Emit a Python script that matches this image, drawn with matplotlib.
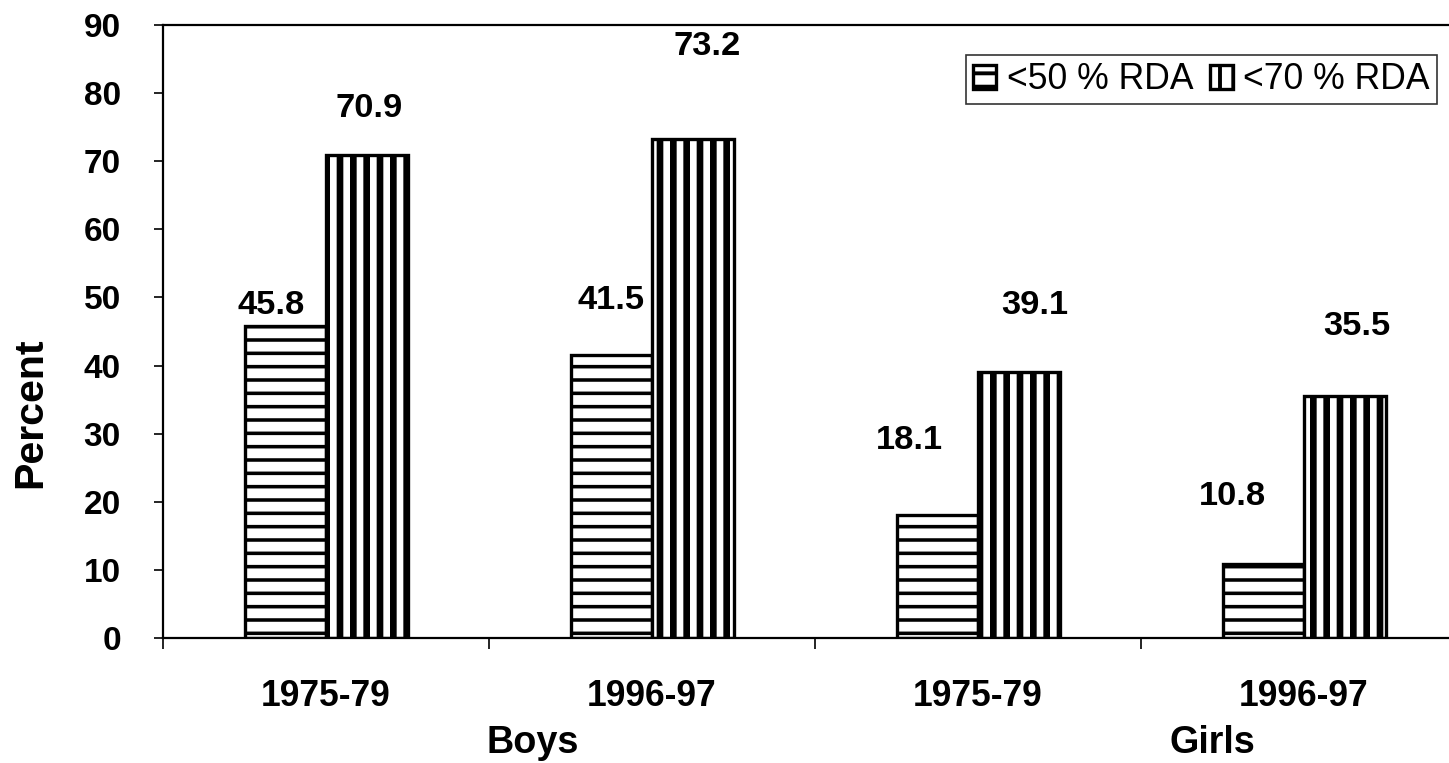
import numpy as np
import matplotlib
matplotlib.use("Agg")
import matplotlib.pyplot as plt

plt.rcParams["font.family"] = ["Liberation Sans", "DejaVu Sans"]
plt.rcParams["hatch.linewidth"] = 3.5

# data
periods = ["1975-79", "1996-97", "1975-79", "1996-97"]
groups = ["Boys", "Girls"]
below50 = [45.8, 41.5, 18.1, 10.8]
below70 = [70.9, 73.2, 39.1, 35.5]
series_names = ["<50 % RDA", "<70 % RDA"]

# layout: where the value labels sit relative to each bar top (pixels, dx, dy)
lab50_off = [(-14, 21), (0, 55), (-28, 74), (-31, 68)]
lab70_off = [(2, 47), (14, 93), (16, 66), (12, 70)]
group_x = [1.135, 3.22]

DPI = 80
fig = plt.figure(figsize=(1449 / DPI, 763 / DPI), dpi=DPI)
ax = fig.add_axes([163 / 1449, 125 / 763, 1304 / 1449, 613 / 763])

x = np.arange(len(periods)) + 0.5
w = 0.25
b1 = ax.bar(x - w / 2, below50, w, facecolor="white", edgecolor="black",
            hatch="-", linewidth=3, label=series_names[0])
b2 = ax.bar(x + w / 2, below70, w, facecolor="white", edgecolor="black",
            hatch="|", linewidth=3, label=series_names[1])
for bars, hw in [(b1, 3.2), (b2, 6.0)]:
    for r in bars:
        if hasattr(r, "set_hatch_linewidth"):
            r.set_hatch_linewidth(hw)

for bars, vals, offs in [(b1, below50, lab50_off), (b2, below70, lab70_off)]:
    for r, v, (dx, dy) in zip(bars, vals, offs):
        ax.annotate(f"{v:.1f}", (r.get_x() + r.get_width() / 2, v),
                    xytext=(dx, dy), textcoords="offset pixels",
                    ha="center", va="center", fontsize=31, fontweight="bold")

ax.set_xlim(0, 4)
ax.set_ylim(0, 90)
ax.set_yticks(range(0, 91, 10))
ax.tick_params(axis="y", length=8, width=1.5, pad=30, labelsize=30)
for t in ax.get_yticklabels():
    t.set_fontweight("bold")
ax.set_xticks(range(0, 5))
ax.set_xticklabels([])
ax.set_xticks(x, minor=True)
ax.set_xticklabels(periods, minor=True, fontsize=32, fontweight="bold")
ax.tick_params(axis="x", which="major", length=10, width=1.5)
ax.tick_params(axis="x", which="minor", length=0, pad=37)
for s in ax.spines.values():
    s.set_linewidth(2)

for g, gx in zip(groups, group_x):
    ax.text(gx, -15.4, g, ha="center", va="center", fontsize=34,
            fontweight="bold", transform=ax.transData, clip_on=False)

fig.text(30 / 1449, 1 - 413 / 763, "Percent", rotation=90, ha="center",
         va="center", fontsize=37, fontweight="bold")

leg = ax.legend(loc="upper right", bbox_to_anchor=(0.977, 0.951), ncol=2,
                fontsize=32, frameon=True, fancybox=False, borderaxespad=0,
                handlelength=0.65, handleheight=0.65, handletextpad=0.3,
                columnspacing=0.45, borderpad=0.2)
leg.get_frame().set_edgecolor("black")
leg.get_frame().set_linewidth(1.5)

fig.savefig("out.png", dpi=DPI)
